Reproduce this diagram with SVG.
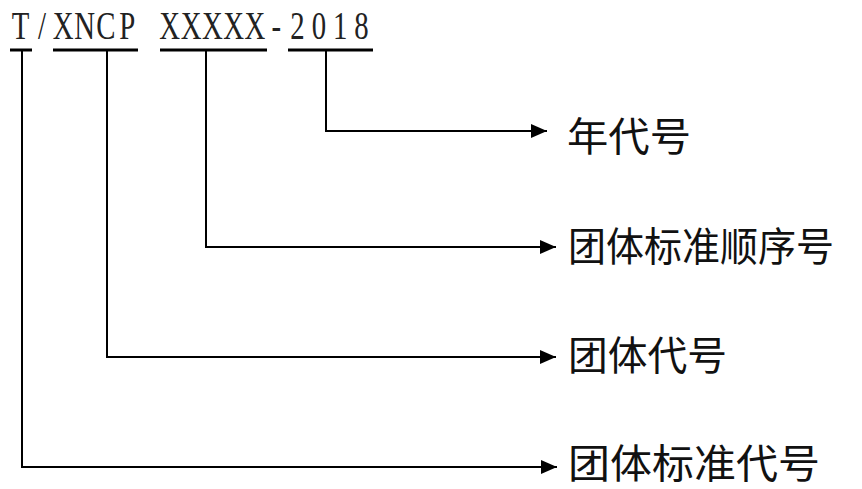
<svg xmlns="http://www.w3.org/2000/svg" width="862" height="489" viewBox="0 0 862 489">
<defs>
<style>
.code{font-family:"Liberation Serif","DejaVu Serif",serif;font-size:40px;fill:#222;text-anchor:middle;}
.lbl{font-family:"Noto Sans CJK SC","Noto Sans",sans-serif;font-size:40px;fill:#111;}
.ul{stroke:#000;stroke-width:3;fill:none;}
.ln{stroke:#000;stroke-width:2;fill:none;}
</style>
<marker id="arrow" viewBox="0 0 16 16" refX="16" refY="8" markerWidth="16" markerHeight="16" markerUnits="userSpaceOnUse" orient="auto">
<path d="M0,1 L16,8 L0,15 Z" fill="#000"/>
</marker>
</defs>
<g id="code">
<text class="code" transform="scale(0.72,1)" y="39" x="28.68 58.26 87.85 117.43 147.01 176.60 206.18 235.76 265.35 294.93 324.51 354.10 383.68 413.26 442.85 472.43 502.01">T/XNCP XXXXX-2018</text>
<line class="ul" x1="10" y1="50" x2="32" y2="50"/>
<line class="ul" x1="53" y1="50" x2="138" y2="50"/>
<line class="ul" x1="160" y1="50" x2="267" y2="50"/>
<line class="ul" x1="288" y1="50" x2="373" y2="50"/>
</g>
<g id="connectors">
<polyline class="ln" points="326,51 326,131 547,131" marker-end="url(#arrow)"/>
<polyline class="ln" points="206,51 206,247 556,247" marker-end="url(#arrow)"/>
<polyline class="ln" points="107,51 107,357 556,357" marker-end="url(#arrow)"/>
<polyline class="ln" points="22,51 22,467 557,467" marker-end="url(#arrow)"/>
</g>
<g id="year"><text class="lbl" x="567" y="151" textLength="124" lengthAdjust="spacingAndGlyphs">年代号</text></g>
<g id="seq"><text class="lbl" x="568" y="261" textLength="266" lengthAdjust="spacingAndGlyphs">团体标准顺序号</text></g>
<g id="org"><text class="lbl" x="568" y="370" textLength="159" lengthAdjust="spacingAndGlyphs">团体代号</text></g>
<g id="std"><text class="lbl" x="568" y="478" textLength="252" lengthAdjust="spacingAndGlyphs">团体标准代号</text></g>
</svg>
